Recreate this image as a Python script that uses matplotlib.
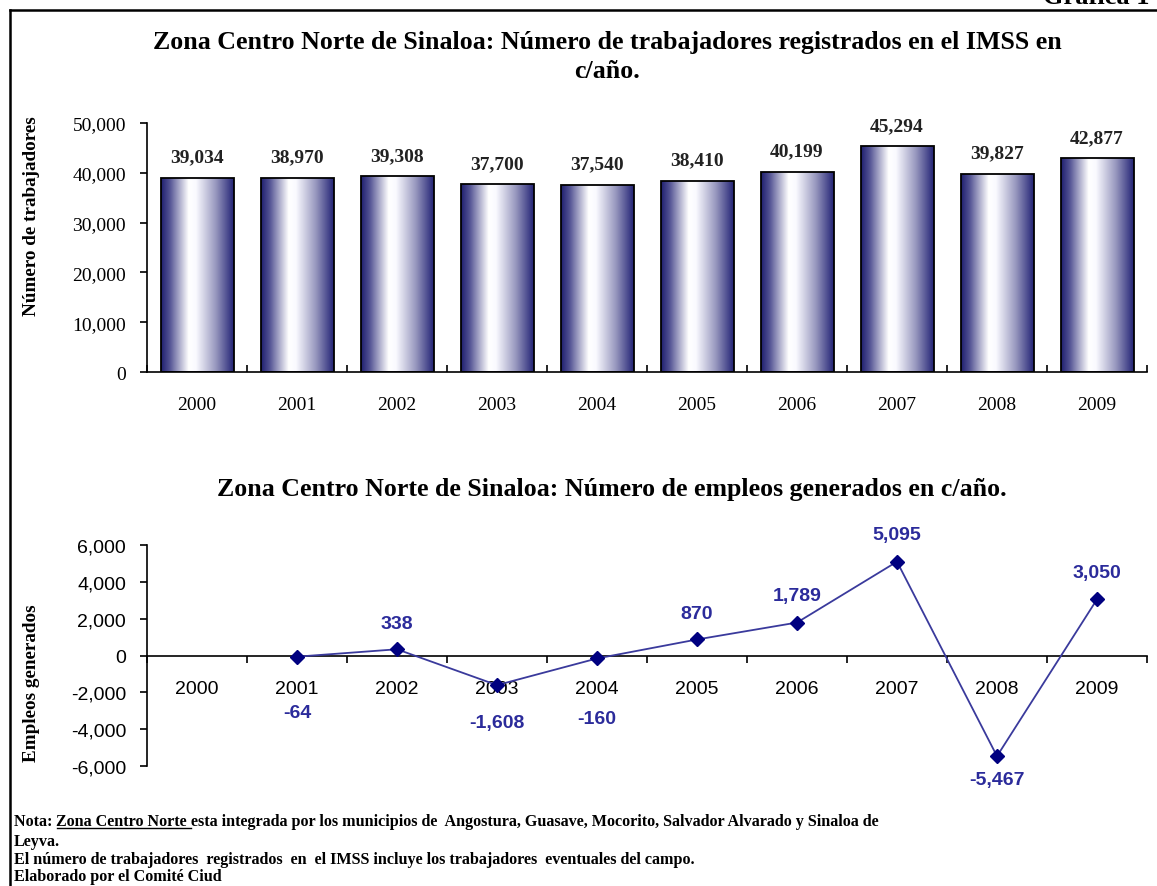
import matplotlib
matplotlib.use('Agg')
import matplotlib.pyplot as plt
import numpy as np
from matplotlib.colors import LinearSegmentedColormap
from matplotlib.lines import Line2D

years = ['2000', '2001', '2002', '2003', '2004', '2005', '2006', '2007', '2008', '2009']
trabajadores = [39034, 38970, 39308, 37700, 37540, 38410, 40199, 45294, 39827, 42877]
empleo_years = ['2001', '2002', '2003', '2004', '2005', '2006', '2007', '2008', '2009']
empleos = [-64, 338, -1608, -160, 870, 1789, 5095, -5467, 3050]

titulo1 = 'Zona Centro Norte de Sinaloa: Número de trabajadores registrados en el IMSS en\nc/año.'
titulo2 = 'Zona Centro Norte de Sinaloa: Número de empleos generados en c/año.'

W, H = 1157, 887
SERIF = 'Liberation Serif'
SANS = 'Liberation Sans'

fig = plt.figure(figsize=(W / 100, H / 100), dpi=100)

def px_ax(x0, y0, x1, y1):
    return fig.add_axes([x0 / W, 1 - y1 / H, (x1 - x0) / W, (y1 - y0) / H])

# ---- grafica de barras ----
ax1 = px_ax(147, 124, 1147, 373)
xpos = np.arange(len(years))
bars = ax1.bar(xpos, trabajadores, width=0.73, facecolor='none',
               edgecolor='black', linewidth=1.3, zorder=3)

cmap = LinearSegmentedColormap.from_list('cil', [
    (0.0, (0.12, 0.12, 0.44)),
    (0.12, (0.33, 0.33, 0.58)),
    (0.38, (1.0, 1.0, 1.0)),
    (0.48, (0.98, 0.98, 1.0)),
    (0.75, (0.60, 0.60, 0.75)),
    (1.0, (0.14, 0.14, 0.46))])
grad = np.linspace(0, 1, 256).reshape(1, -1)
for b in bars.patches:
    im = ax1.imshow(grad, cmap=cmap, aspect='auto', zorder=2,
                    extent=[b.get_x(), b.get_x() + b.get_width(), 0, b.get_height()])
    im.set_clip_path(b)

for x, v in zip(xpos, trabajadores):
    ax1.annotate(f'{v:,}', (x, v), xytext=(0, 21), textcoords='offset pixels',
                 ha='center', va='center', fontsize=14, fontweight='bold',
                 family=SERIF, color='#222222')

ax1.set_xlim(-0.5, len(years) - 0.5)
ax1.set_ylim(0, 50000)
ax1.set_yticks(np.arange(0, 50001, 10000))
ax1.set_yticklabels([f'{v:,}' for v in range(0, 50001, 10000)], family=SERIF, fontsize=14)
ax1.set_xticks(xpos)
ax1.set_xticklabels(years, family=SERIF, fontsize=14)
ax1.set_xticks(np.arange(-0.5, len(years)), minor=True)
ax1.tick_params(axis='x', which='major', length=0, pad=17)
ax1.tick_params(axis='x', which='minor', length=5, width=1.2, direction='in')
ax1.tick_params(axis='y', length=5, width=1.2, direction='out', pad=10)
for s in ['top', 'right']:
    ax1.spines[s].set_visible(False)
for s in ['left', 'bottom']:
    ax1.spines[s].set_linewidth(1.2)
ax1.set_ylabel('Número de trabajadores', family=SERIF, fontsize=13.8, fontweight='bold')
ax1.yaxis.set_label_coords(-0.107, 0.63)
ax1.patch.set_alpha(0)

fig.text(607 / W, 1 - 57 / H, titulo1, ha='center', va='center', family=SERIF,
         fontsize=18.6, fontweight='bold', linespacing=1.38)

# ---- grafica de lineas ----
ax2 = px_ax(147, 546, 1147, 767)
for s in ['top', 'right']:
    ax2.spines[s].set_visible(False)
ax2.spines['bottom'].set_position(('data', 0))
for s in ['left', 'bottom']:
    ax2.spines[s].set_linewidth(1.2)

ex = [years.index(y) for y in empleo_years]
ax2.plot(ex, empleos, color='#3a3a9c', linewidth=1.3, marker='D',
         markersize=7, markerfacecolor='#000080', markeredgecolor='#000080', zorder=3)
label_dy = [56, -26, 37, 60, -26, -27, -27, 23, -27]
for x, v, dy in zip(ex, empleos, label_dy):
    ax2.annotate(f'{v:,}', (x, v), xytext=(0, -dy), textcoords='offset pixels',
                 ha='center', va='center', fontsize=14, fontweight='bold',
                 family=SANS, color='#2b2b9b')

ax2.set_xlim(-0.5, len(years) - 0.5)
ax2.set_ylim(-6000, 6000)
ax2.set_yticks(np.arange(-6000, 6001, 2000))
ax2.set_yticklabels([f'{v:,}' for v in range(-6000, 6001, 2000)], family=SANS, fontsize=14)
ax2.set_xticks(xpos)
ax2.set_xticklabels(years, family=SANS, fontsize=14)
ax2.set_xticks(np.arange(-0.5, len(years)), minor=True)
ax2.tick_params(axis='x', which='major', length=0, pad=18)
ax2.tick_params(axis='x', which='minor', length=5, width=1.2, direction='out')
ax2.tick_params(axis='y', length=5, width=1.2, direction='out', pad=10)
ax2.set_ylabel('Empleos generados', family=SERIF, fontsize=13.8, fontweight='bold')
ax2.yaxis.set_label_coords(-0.107, 0.38)
ax2.patch.set_alpha(0)

fig.text(612 / W, 1 - 490 / H, titulo2, ha='center', va='center', family=SERIF,
         fontsize=18.6, fontweight='bold')

# ---- marco y notas ----
fig.add_artist(Line2D([10 / W, 10 / W], [0, 1 - 11 / H], color='black', linewidth=1.8))
fig.add_artist(Line2D([10 / W, 1], [1 - 11 / H, 1 - 11 / H], color='black', linewidth=1.8))
fig.text(1043 / W, 1 - 4 / H, 'Gráfica 1', ha='left', va='baseline', family=SERIF,
         fontsize=19, fontweight='bold')

nfs = 11.6
y_lines = [822, 842, 860, 877]
t0 = fig.text(14 / W, 1 - y_lines[0] / H, 'Nota: ', va='center', family=SERIF,
              fontsize=nfs, fontweight='bold')
r = fig.canvas.get_renderer()
bb0 = t0.get_window_extent(r)
t1 = fig.text(bb0.x1 / W, 1 - y_lines[0] / H, 'Zona Centro Norte ', va='center',
              family=SERIF, fontsize=nfs, fontweight='bold')
bb1 = t1.get_window_extent(r)
fig.add_artist(Line2D([bb1.x0 / W, bb1.x1 / W], [(bb1.y0 + 1) / H, (bb1.y0 + 1) / H],
                      color='black', linewidth=1.0))
fig.text(bb1.x1 / W, 1 - y_lines[0] / H,
         'esta integrada por los municipios de  Angostura, Guasave, Mocorito, Salvador Alvarado y Sinaloa de',
         va='center', family=SERIF, fontsize=nfs, fontweight='bold')
otras = ['Leyva.',
         'El número de trabajadores  registrados  en  el IMSS incluye los trabajadores  eventuales del campo.',
         'Elaborado por el Comité Ciud']
for yy, s in zip(y_lines[1:], otras):
    fig.text(14 / W, 1 - yy / H, s, va='center', family=SERIF, fontsize=nfs, fontweight='bold')

fig.savefig('out.png', dpi=100)
